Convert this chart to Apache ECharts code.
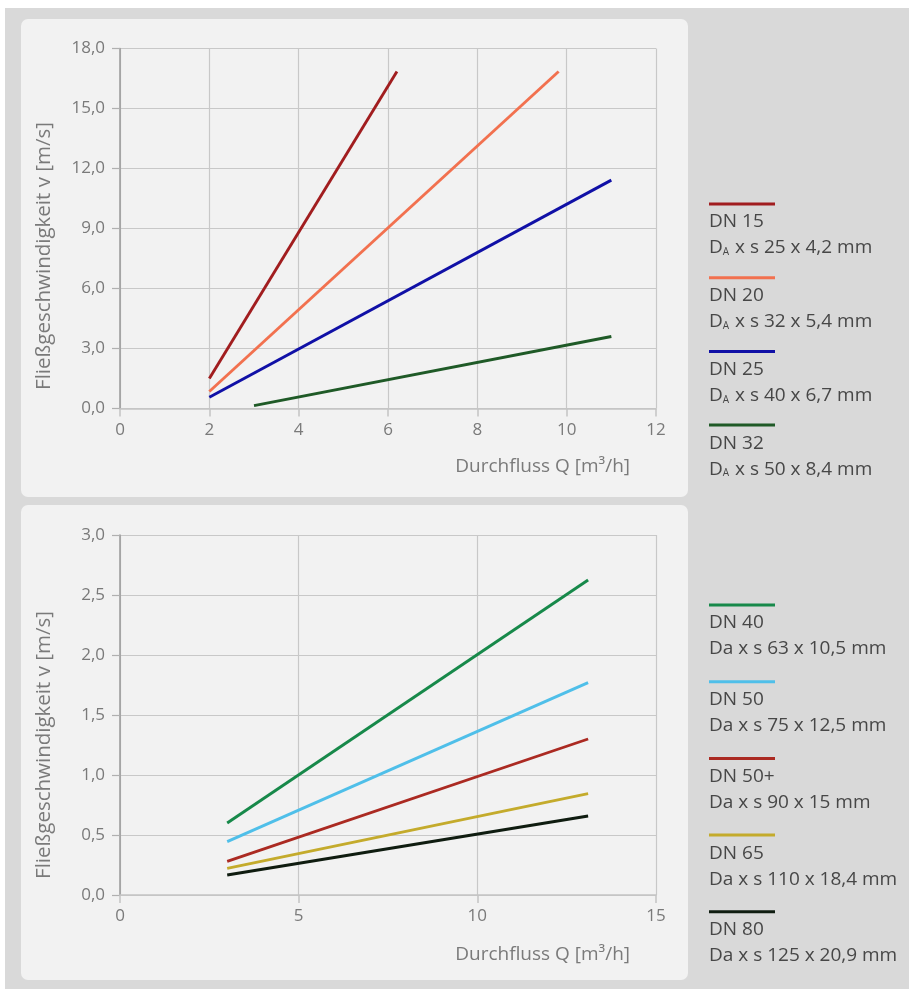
<!DOCTYPE html>
<html>
<head>
<meta charset="utf-8">
<script src="https://cdn.jsdelivr.net/npm/echarts@6/dist/echarts.min.js"></script>
<style>
html,body{margin:0;padding:0;background:#ffffff;}
#chart{width:909px;height:989px;}
</style>
</head>
<body>
<div id="chart"></div>
<script>
// ---- Top chart data ----
const topNames = ['DN 15', 'DN 20', 'DN 25', 'DN 32'];
const topDims = ['25 x 4,2 mm', '32 x 5,4 mm', '40 x 6,7 mm', '50 x 8,4 mm'];
const topColors = ['#a11d1f', '#f2714f', '#1010a6', '#1f5a27'];
const dn15 = [[2.0, 1.5], [6.2, 16.85]];
const dn20 = [[2.0, 0.85], [9.82, 16.85]];
const dn25 = [[2.0, 0.56], [11.0, 11.42]];
const dn32 = [[3.0, 0.14], [11.0, 3.6]];
const topSeriesData = [dn15, dn20, dn25, dn32];
const topXTicks = [0, 2, 4, 6, 8, 10, 12];
const topYTicks = [0, 3, 6, 9, 12, 15, 18];

// ---- Bottom chart data ----
const botNames = ['DN 40', 'DN 50', 'DN 50+', 'DN 65', 'DN 80'];
const botDims = ['63 x 10,5 mm', '75 x 12,5 mm', '90 x 15 mm', '110 x 18,4 mm', '125 x 20,9 mm'];
const botColors = ['#17894a', '#4fbfe9', '#ab2a22', '#c4ab2c', '#0f1c10'];
const dn40 = [[3.0, 0.6], [13.1, 2.625]];
const dn50 = [[3.0, 0.445], [13.1, 1.77]];
const dn50p = [[3.0, 0.28], [13.1, 1.3]];
const dn65 = [[3.0, 0.222], [13.1, 0.845]];
const dn80 = [[3.0, 0.167], [13.1, 0.658]];
const botSeriesData = [dn40, dn50, dn50p, dn65, dn80];
const botXTicks = [0, 5, 10, 15];
const botYTicks = [0, 0.5, 1.0, 1.5, 2.0, 2.5, 3.0];

const yName = 'Fließgeschwindigkeit v [m/s]';
const xName = 'Durchfluss Q [m³/h]';

const FONT = '"Open Sans", "Noto Sans", sans-serif';
const fmtDec = v => v.toFixed(1).replace('.', ',');

function axisX(gridIndex, ticks) {
  return {
    type: 'value', gridIndex,
    min: ticks[0], max: ticks[ticks.length - 1], interval: ticks[1] - ticks[0],
    axisLine: {show: true, lineStyle: {color: '#c4c4c4', width: 1.5}},
    axisTick: {show: true, length: 8, lineStyle: {color: '#c4c4c4', width: 1.5}},
    splitLine: {show: true, lineStyle: {color: '#c8c8c8', width: 1.2}},
    axisLabel: {color: '#7a7a7a', fontSize: 17, fontFamily: FONT, margin: 13}
  };
}
function axisY(gridIndex, ticks) {
  return {
    type: 'value', gridIndex,
    min: ticks[0], max: ticks[ticks.length - 1], interval: ticks[1] - ticks[0],
    axisLine: {show: true, lineStyle: {color: '#9a9a9a', width: 1.5}},
    axisTick: {show: true, length: 8, lineStyle: {color: '#b0b0b0', width: 1.2}},
    splitLine: {show: true, lineStyle: {color: '#c8c8c8', width: 1.2}},
    axisLabel: {color: '#7a7a7a', fontSize: 17, fontFamily: FONT, margin: 15, formatter: fmtDec}
  };
}

const series = [];
topSeriesData.forEach((d, i) => series.push({
  name: topNames[i], type: 'line', xAxisIndex: 0, yAxisIndex: 0, data: d,
  symbol: 'none', lineStyle: {color: topColors[i], width: 2.9}, itemStyle: {color: topColors[i]}, silent: true
}));
botSeriesData.forEach((d, i) => series.push({
  name: botNames[i], type: 'line', xAxisIndex: 1, yAxisIndex: 1, data: d,
  symbol: 'none', lineStyle: {color: botColors[i], width: 2.9}, itemStyle: {color: botColors[i]}, silent: true
}));

const graphics = [
  {type: 'rect', z: -10, shape: {x: 5, y: 8, width: 904, height: 981}, style: {fill: '#d9d9d9'}},
  {type: 'rect', z: -9, shape: {x: 21, y: 19, width: 667, height: 478, r: 7}, style: {fill: '#f2f2f2'}},
  {type: 'rect', z: -9, shape: {x: 21, y: 505, width: 667, height: 475, r: 7}, style: {fill: '#f2f2f2'}},
  {type: 'text', x: 44, y: 256, rotation: Math.PI / 2,
    style: {text: yName, fill: '#7a7a7a', font: '20.5px ' + FONT, align: 'center', verticalAlign: 'middle'}},
  {type: 'text', x: 44, y: 745, rotation: Math.PI / 2,
    style: {text: yName, fill: '#7a7a7a', font: '20.5px ' + FONT, align: 'center', verticalAlign: 'middle'}},
  {type: 'text', x: 630, y: 467,
    style: {text: xName, fill: '#7a7a7a', font: '19px ' + FONT, align: 'right', verticalAlign: 'middle'}},
  {type: 'text', x: 630, y: 955,
    style: {text: xName, fill: '#7a7a7a', font: '19px ' + FONT, align: 'right', verticalAlign: 'middle'}}
];

function legendBlock(names, dims, colors, y0, step, subscript) {
  names.forEach((n, i) => {
    const y = y0 + i * step;
    graphics.push({type: 'rect', shape: {x: 709, y: y - 1.5, width: 66, height: 3}, style: {fill: colors[i]}});
    graphics.push({type: 'text', x: 709, y: y + 18,
      style: {text: n, fill: '#474747', font: '19px ' + FONT, align: 'left', verticalAlign: 'middle'}});
    const txt = subscript ? '{d|D}{s|A}{d| x s ' + dims[i] + '}' : '{d|Da x s ' + dims[i] + '}';
    graphics.push({type: 'text', x: 709, y: y + 44,
      style: {text: txt, align: 'left', verticalAlign: 'middle',
        rich: {
          d: {fill: '#474747', fontSize: 19, fontFamily: FONT},
          s: {fill: '#474747', fontSize: 10, fontFamily: FONT, padding: [9, 1, 0, 0]}
        }}});
  });
}
legendBlock(topNames, topDims, topColors, 204, 73.7, true);
legendBlock(botNames, botDims, botColors, 605, 76.7, false);

const chart = echarts.init(document.getElementById('chart'), null, {renderer: 'canvas'});
chart.setOption({
  backgroundColor: '#ffffff',
  animation: false,
  grid: [
    {left: 120, right: 253, top: 48.5, bottom: 580.5},
    {left: 120, right: 253, top: 535, bottom: 94}
  ],
  xAxis: [axisX(0, topXTicks), axisX(1, botXTicks)],
  yAxis: [axisY(0, topYTicks), axisY(1, botYTicks)],
  series,
  graphic: graphics
});
</script>
</body>
</html>
